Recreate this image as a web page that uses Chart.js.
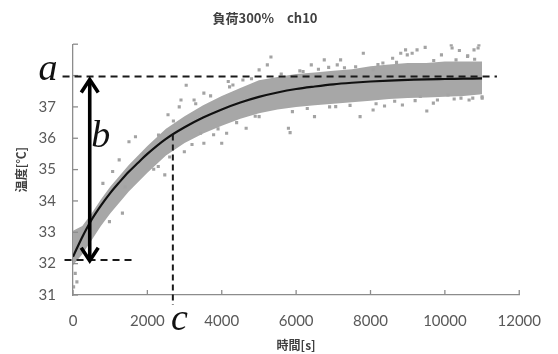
<!DOCTYPE html>
<html><head><meta charset="utf-8">
<script src="https://cdn.jsdelivr.net/npm/chart.js@4.4.1/dist/chart.umd.min.js"></script>
<style>html,body{margin:0;padding:0;background:#fff}#wrap{width:558px;height:354px}</style>
</head><body><div id="wrap"><canvas id="c" width="558" height="354"></canvas></div>
<script>
// ---- text ----
const chartTitle = '負荷300%　ch10';
const xTitle = '時間[s]';
const yTitle = '温度[℃]';
// ---- ticks ----
const xTickValues = [0, 2000, 4000, 6000, 8000, 10000, 12000];
const xTickLabels = ['0', '2000', '4000', '6000', '8000', '10000', '12000'];
const yTickLabels = ['31', '32', '33', '34', '35', '36', '37', '', ''];
// ---- fitted curve ----
const curveTime = [0, 250, 500, 750, 1000, 1250, 1500, 1750, 2000, 2500, 3000, 3500, 4000, 4500, 5000, 5500, 6000, 6500, 7000, 7500, 8000, 8500, 9000, 9500, 10000, 10500, 11000];
const curveTemp = [32.22, 32.85, 33.4, 33.85, 34.25, 34.6, 34.93, 35.22, 35.5, 35.98, 36.35, 36.66, 36.92, 37.14, 37.32, 37.46, 37.57, 37.65, 37.72, 37.77, 37.81, 37.84, 37.86, 37.88, 37.89, 37.9, 37.91];
// ---- dense measured band (upper / lower edge) ----
const bandTime = [0, 250, 500, 750, 1000, 1500, 2000, 2500, 3000, 3500, 4000, 4500, 5000, 5500, 6000, 6500, 7000, 7500, 8000, 8500, 9000, 9500, 10000, 10500, 11000];
const bandUpper = [33.05, 33.2, 33.6, 34.05, 34.45, 35.15, 35.75, 36.3, 36.7, 37.05, 37.35, 37.6, 37.85, 37.95, 38.05, 38.1, 38.15, 38.2, 38.3, 38.35, 38.4, 38.4, 38.45, 38.45, 38.45];
const bandLower = [31.95, 32.3, 32.75, 33.2, 33.6, 34.3, 34.9, 35.45, 35.85, 36.15, 36.4, 36.62, 36.8, 36.92, 37.0, 37.05, 37.1, 37.15, 37.2, 37.25, 37.28, 37.3, 37.32, 37.35, 37.4];
// ---- scattered measurements outside / on the edge of the band ----
const outlierTime = [8943, 8813, 8989, 9252, 9470, 9908, 10171, 10390, 10609, 10784, 10915, 8595, 8333, 8070, 8070, 8377, 8858, 9514, 9690, 10433, 10651, 11003, 10084, 9339,
  5323, 5226, 5005, 4175, 4569, 6408, 6757, 7106, 7196, 6187, 7807, 4656, 5793, 5838, 3999, 3781, 5005, 6494, 7064, 7720, 4131,
  2904, 3256, 3519, 2555, 1680, 1505, 1242, 1066, 804, 2293, 2468, 2170, 1329, 980, 2994, 3519, 3430, 105, 16, 60,
  9120, 10194, 10893, 10614, 6875, 3044, 2857, 4210,
  5600, 6100, 6600, 7300, 7600, 8200, 8700, 9700, 10300, 10800, 5900, 6300, 6900, 7450, 8150, 8650, 9200, 9800, 10250, 10750, 11000,
  3700, 4300, 4800, 3300, 2700, 2300, 1900, 1400, 4400, 4900, 3900, 3200, 2600];
const outlierTemp = [38.82, 38.71, 38.66, 38.82, 38.9, 38.66, 38.98, 38.8, 38.61, 38.82, 38.98, 38.55, 38.4, 38.18, 36.9, 37.03, 37.06, 36.87, 37.12, 37.28, 37.22, 37.28, 37.38, 37.33,
  38.59, 38.34, 38.18, 37.81, 37.86, 38.34, 38.5, 38.34, 38.5, 38.13, 38.71, 36.32, 36.32, 36.18, 35.84, 36.11, 36.69, 36.69, 37.01, 36.69, 36.16,
  37.22, 37.22, 37.44, 36.75, 36.05, 35.89, 35.31, 34.94, 34.56, 35.1, 34.83, 35.01, 33.61, 33.34, 35.57, 35.84, 36.16, 31.42, 31.26, 31.69,
  38.71, 38.88, 38.88, 38.63, 38.26, 37.69, 37.0, 37.64,
  38.05, 38.15, 38.2, 38.25, 38.28, 38.35, 38.42, 38.48, 38.5, 38.52, 36.85, 36.95, 37.0, 37.05, 37.1, 37.18, 37.2, 37.22, 37.25, 37.28, 37.32,
  37.35, 37.7, 37.9, 37.1, 36.55, 36.1, 35.5, 34.45, 36.5, 36.7, 36.3, 35.8, 35.4];
// ---- annotation values ----
const aLevel = 37.97;      // asymptote a
const bBase = 32.12;       // initial level
const cTime = 2685;        // time constant c
const cTemp = 36.12;
const arrowTime = 450;
const arrowBottom = 32.03;

const pts = (xs, ys) => xs.map((t, i) => ({x: t, y: ys[i]}));
const GRAY = '#a7a7a7';

const annot = {
  id: 'annot',
  afterDatasetsDraw(chart) {
    const {ctx, scales: {x, y}} = chart;
    const X = v => x.getPixelForValue(v), Y = v => y.getPixelForValue(v);
    const seg = (x1, y1, x2, y2) => { ctx.beginPath(); ctx.moveTo(x1, y1); ctx.lineTo(x2, y2); ctx.stroke(); };
    ctx.save();
    // inward tick marks
    ctx.strokeStyle = '#8c8c8c'; ctx.lineWidth = 1.3;
    x.ticks.forEach(t => seg(X(t.value), Y(31), X(t.value), Y(31) - 5));
    y.ticks.forEach(t => seg(X(0), Y(t.value), X(0) + 5, Y(t.value)));
    // dashed guides
    ctx.strokeStyle = '#1a1a1a'; ctx.lineWidth = 2; ctx.setLineDash([7, 5]);
    seg(X(-281), Y(aLevel), X(11400), Y(aLevel));
    seg(X(-228), Y(bBase), X(1585), Y(bBase));
    ctx.setLineDash([6, 4]);
    seg(X(cTime), Y(cTemp), X(cTime), Y(30.68));
    ctx.setLineDash([]);
    // double arrow b
    const ax = X(arrowTime), top = Y(aLevel) + 1, bot = Y(arrowBottom);
    ctx.strokeStyle = '#000'; ctx.lineWidth = 3.6; ctx.lineCap = 'butt';
    seg(ax, top + 3, ax, bot - 3);
    ctx.lineJoin = 'miter';
    ctx.beginPath(); ctx.moveTo(ax - 8.5, top + 15); ctx.lineTo(ax, top + 2); ctx.lineTo(ax + 8.5, top + 15); ctx.stroke();
    ctx.beginPath(); ctx.moveTo(ax - 8.5, bot - 15); ctx.lineTo(ax, bot - 2); ctx.lineTo(ax + 8.5, bot - 15); ctx.stroke();
    // letters
    ctx.fillStyle = '#111'; ctx.font = 'italic 38px "Liberation Serif"';
    ctx.textAlign = 'center'; ctx.textBaseline = 'alphabetic';
    ctx.fillText('a', X(-675), Y(37.86));
    ctx.fillText('b', X(745), Y(35.72));
    ctx.fillText('c', X(2860), Y(29.88));
    ctx.restore();
  }
};

new Chart(document.getElementById('c'), {
  type: 'scatter',
  data: {
    datasets: [
      {label: 'fit', data: pts(curveTime, curveTemp), showLine: true, borderColor: '#111', borderWidth: 2.2, pointRadius: 0, cubicInterpolationMode: 'monotone', fill: false},
      {label: 'scatter', data: pts(outlierTime, outlierTemp), pointStyle: 'rect', pointRadius: 2.2, backgroundColor: '#a3a3a3', borderWidth: 0},
      {label: 'bandUpper', data: pts(bandTime, bandUpper), showLine: true, borderWidth: 0, borderColor: GRAY, backgroundColor: GRAY, pointRadius: 0, fill: '+1', tension: 0},
      {label: 'bandLower', data: pts(bandTime, bandLower), showLine: true, borderWidth: 0, borderColor: GRAY, pointRadius: 0, fill: false, tension: 0}
    ]
  },
  options: {
    responsive: false, animation: false,
    layout: {padding: {left: 0, right: 28, top: 0, bottom: 0}},
    plugins: {
      legend: {display: false}, tooltip: {enabled: false},
      title: {display: true, text: chartTitle, color: '#404040',
        font: {family: '"Noto Sans CJK JP", sans-serif', size: 13, weight: 'bold'},
        padding: {top: 10, bottom: 18.6}}
    },
    scales: {
      x: {
        type: 'linear', min: 0, max: 12000,
        afterBuildTicks: s => { s.ticks = xTickValues.map(v => ({value: v})); },
        afterFit: s => { s.height = 59; },
        grid: {display: false, drawTicks: false},
        border: {display: true, color: '#8c8c8c', width: 1.3},
        ticks: {color: '#595959', padding: 17, maxRotation: 0, autoSkip: false, font: {family: 'Lato', size: 15},
          callback: (v, i) => xTickLabels[i]},
        title: {display: true, text: xTitle, color: '#404040', padding: {top: 0, bottom: 1},
          font: {family: '"Noto Sans CJK JP", sans-serif', size: 12, weight: 'bold'}}
      },
      y: {
        min: 31, max: 39,
        ticks: {stepSize: 1, color: '#595959', padding: 17, font: {family: 'Lato', size: 15},
          callback: (v, i) => yTickLabels[i]},
        afterFit: s => { s.width = 73; },
        grid: {display: false, drawTicks: false},
        border: {display: true, color: '#8c8c8c', width: 1.3},
        title: {display: true, text: yTitle, color: '#404040', padding: {top: 14, bottom: 0},
          font: {family: '"Noto Sans CJK JP", sans-serif', size: 12, weight: 'bold'}}
      }
    }
  },
  plugins: [annot]
});
</script>
</body></html>
